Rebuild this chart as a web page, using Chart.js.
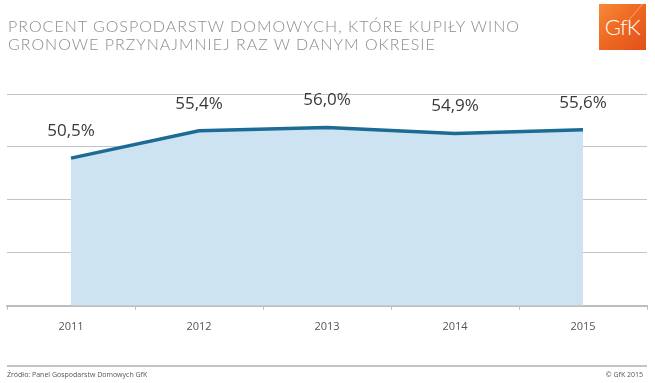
<!DOCTYPE html>
<html>
<head>
<meta charset="utf-8">
<script src="https://cdn.jsdelivr.net/npm/chart.js@4/dist/chart.umd.min.js"></script>
<style>
  html, body { margin:0; padding:0; background:#fff; }
  #wrap { position:relative; width:655px; height:383px; overflow:hidden; }
  #c { position:absolute; left:0; top:0; }
  .title { position:absolute; left:8px; font-family:"Lato", sans-serif; font-weight:300; color:#8c8c8c; font-size:16px; white-space:nowrap; line-height:18px; }
  #logo { position:absolute; left:599px; top:4px; width:47px; height:46px;
          background:linear-gradient(135deg,#f7893a 0%,#ef6a22 45%,#e2501a 100%);
          color:#fff; font-family:"Lato",sans-serif; font-weight:300; font-size:22px;
          line-height:46px; text-align:center; letter-spacing:-0.5px; overflow:hidden; }
  #logo:after { content:""; position:absolute; right:-6px; top:6px; width:30px; height:1px; background:rgba(255,255,255,0.35); transform:rotate(-50deg); }
  #fline { position:absolute; left:7px; top:365px; width:640px; height:2px; background:#c4c4c4; }
  .foot { position:absolute; top:370px; font-family:"Open Sans",sans-serif; font-size:7px; color:#555; line-height:10px; white-space:nowrap; }
</style>
</head>
<body>
<div id="wrap">
  <canvas id="c" width="655" height="383"></canvas>
  <div class="title" id="t1" style="top:17px">PROCENT GOSPODARSTW DOMOWYCH, KTÓRE KUPIŁY WINO</div>
  <div class="title" id="t2" style="top:35px">GRONOWE PRZYNAJMNIEJ RAZ W DANYM OKRESIE</div>
  <div id="logo">GfK</div>
  <div id="fline"></div>
  <div class="foot" style="left:7px">Źródło: Panel Gospodarstw Domowych GfK</div>
  <div class="foot" style="right:12px">© GfK 2015</div>
</div>
<script>
// Data
const years = ["2011", "2012", "2013", "2014", "2015"];
const shares = [50.5, 55.4, 56.0, 54.9, 55.6];
const valueLabels = ["50,5%", "55,4%", "56,0%", "54,9%", "55,6%"];
const gridValues = [24, 33.5, 43, 52.5, 62];

// fit title line 1 width via letter spacing
(function(){
  const t1 = document.getElementById('t1'), t2 = document.getElementById('t2');
  const target = 512;
  const w = t1.getBoundingClientRect().width;
  const n = t1.textContent.length;
  const ls = (target - w) / n;
  t1.style.letterSpacing = ls + 'px';
  t2.style.letterSpacing = ls + 'px';
})();

const labelPlugin = {
  id: 'valueLabels',
  afterDatasetsDraw(chart) {
    const ctx = chart.ctx;
    const meta = chart.getDatasetMeta(0);
    ctx.save();
    ctx.font = '17px "Open Sans", sans-serif';
    ctx.fillStyle = '#3a3a3a';
    ctx.textAlign = 'center';
    ctx.textBaseline = 'middle';
    meta.data.forEach((pt, i) => {
      ctx.fillText(valueLabels[i], pt.x, pt.y - 27);
    });
    ctx.restore();
  }
};

new Chart(document.getElementById('c'), {
  type: 'line',
  data: {
    labels: years,
    datasets: [{
      data: shares,
      borderColor: '#1c6b94',
      borderWidth: 3.5,
      backgroundColor: '#cde3f1',
      fill: 'start',
      pointRadius: 0,
      tension: 0
    }]
  },
  options: {
    responsive: false,
    animation: false,
    events: [],
    layout: { padding: { left: 7, right: 8, top: 94, bottom: 40 } },
    plugins: { legend: { display: false }, tooltip: { enabled: false } },
    scales: {
      x: {
        offset: true,
        grid: { offset: true, drawOnChartArea: false, drawTicks: true, tickLength: 4, color: '#bdbdbd' },
        border: { display: true, color: '#bdbdbd', width: 2 },
        ticks: { color: '#555', font: { family: 'Open Sans', size: 11 }, padding: 10 }
      },
      y: {
        min: 24, max: 62,
        afterBuildTicks: s => { s.ticks = gridValues.map(v => ({ value: v })); },
        afterFit: s => { s.width = 0; },
        ticks: { display: false },
        grid: { drawTicks: false, color: '#c4c4c4', lineWidth: 1 },
        border: { display: false }
      }
    }
  },
  plugins: [labelPlugin]
});
</script>
</body>
</html>
